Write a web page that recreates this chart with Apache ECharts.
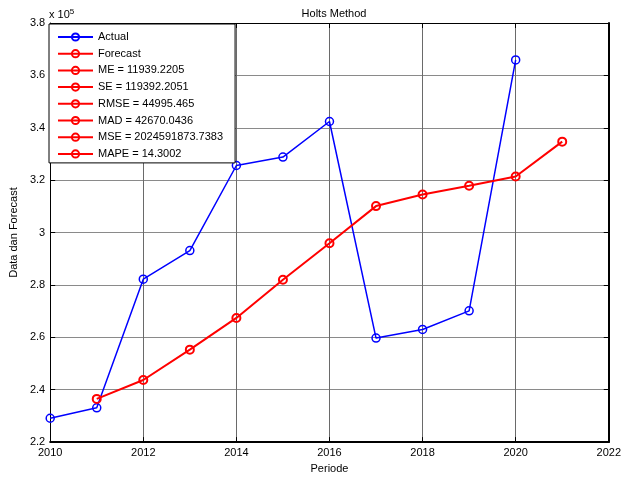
<!DOCTYPE html>
<html>
<head>
<meta charset="utf-8">
<script src="https://cdn.jsdelivr.net/npm/echarts@6/dist/echarts.min.js"></script>
<style>
html,body{margin:0;padding:0;background:#fff;}
#c{width:624px;height:479px;}
</style>
</head>
<body>
<div id="c"></div>
<script>
// Data
const actualYears = [2010, 2011, 2012, 2013, 2014, 2015, 2016, 2017, 2018, 2019, 2020];
const actualValues = [229100, 233100, 282200, 293100, 325600, 328800, 342400, 259700, 263000, 270100, 365900];
const forecastYears = [2011, 2012, 2013, 2014, 2015, 2016, 2017, 2018, 2019, 2020, 2021];
const forecastValues = [236500, 243700, 255300, 267400, 282000, 295900, 310100, 314500, 317900, 321400, 334700];
const legendNames = ['Actual', 'Forecast', 'ME = 11939.2205', 'SE = 119392.2051', 'RMSE = 44995.465',
  'MAD = 42670.0436', 'MSE = 2024591873.7383', 'MAPE = 14.3002'];
const chartTitle = 'Holts Method';
const xLabel = 'Periode';
const yLabel = 'Data dan Forecast';
const xMin = 2010, xMax = 2022, xStep = 2;
const yMin = 220000, yMax = 380000, yStep = 20000;
const yScaleExp = 5;

const FONT = 'Liberation Sans, Arial, sans-serif';
const chart = echarts.init(document.getElementById('c'), null, {renderer: 'canvas'});

function pairs(xs, ys) { return xs.map((x, i) => [x, ys[i]]); }

function lineSeries(name, xs, ys, color, width, z) {
  return {
    name: name, type: 'line', xAxisIndex: 0, yAxisIndex: 0,
    data: xs ? pairs(xs, ys) : [],
    symbol: 'circle', symbolSize: 8, showSymbol: true,
    itemStyle: {color: 'rgba(255,255,255,0)', borderColor: color, borderWidth: width},
    lineStyle: {color: color, width: width},
    emphasis: {disabled: true},
    animation: false, z: z
  };
}

const series = [
  lineSeries(legendNames[0], actualYears, actualValues, '#0000ff', 1.5, 3),
  lineSeries(legendNames[1], forecastYears, forecastValues, '#ff0000', 2, 4)
];
for (let i = 2; i < legendNames.length; i++) {
  series.push(lineSeries(legendNames[i], null, null, '#ff0000', 2, 2));
}

const axisCommonX = {type: 'value', min: xMin, max: xMax, interval: xStep};
const axisCommonY = {type: 'value', min: yMin, max: yMax, interval: yStep};

const option = {
  backgroundColor: '#fff',
  animation: false,
  title: [
    {
      text: chartTitle, left: 329, top: 3, textAlign: 'center',
      textStyle: {fontFamily: FONT, fontSize: 11, fontWeight: 'normal', color: '#000'}
    },
    {
      text: 'x 10{sup|' + yScaleExp + '}', left: 44, top: 3,
      textStyle: {
        fontFamily: FONT, fontSize: 11, fontWeight: 'normal', color: '#000',
        rich: {sup: {fontFamily: FONT, fontSize: 8, color: '#000', verticalAlign: 'top', padding: [0, 0, 6, 0]}}
      }
    }
  ],
  grid: {left: 47, right: 13, top: 23, bottom: 36, containLabel: false},
  legend: {
    orient: 'vertical', left: 49, top: 24,
    data: legendNames,
    backgroundColor: '#fff', borderColor: '#000', borderWidth: 1,
    padding: [7, 12, 3, 8],
    itemWidth: 35, itemHeight: 9, itemGap: 4.7,
    textStyle: {fontFamily: FONT, fontSize: 11, color: '#000', lineHeight: 12},
    selectedMode: false, z: 10
  },
  xAxis: [
    Object.assign({}, axisCommonX, {
      position: 'bottom',
      name: xLabel, nameLocation: 'middle', nameGap: 19,
      nameTextStyle: {fontFamily: FONT, fontSize: 11, color: '#000'},
      axisLine: {show: true, onZero: false, lineStyle: {color: '#000', width: 2}},
      axisTick: {show: true, inside: true, length: 5, lineStyle: {color: '#000'}},
      axisLabel: {fontFamily: FONT, fontSize: 11, color: '#000', margin: 5, formatter: v => String(v)},
      splitLine: {show: true, lineStyle: {color: '#6a6a6a', width: 1}}
    }),
    Object.assign({}, axisCommonX, {
      position: 'top',
      axisLine: {show: true, onZero: false, lineStyle: {color: '#000', width: 1}},
      axisTick: {show: true, inside: true, length: 5, lineStyle: {color: '#000'}},
      axisLabel: {show: false},
      splitLine: {show: false}
    })
  ],
  yAxis: [
    Object.assign({}, axisCommonY, {
      position: 'left',
      name: yLabel, nameLocation: 'middle', nameGap: 30, nameRotate: 90,
      nameTextStyle: {fontFamily: FONT, fontSize: 11, color: '#000'},
      axisLine: {show: true, onZero: false, lineStyle: {color: '#000', width: 1}},
      axisTick: {show: true, inside: true, length: 5, lineStyle: {color: '#000'}},
      axisLabel: {
        fontFamily: FONT, fontSize: 11, color: '#000', margin: 5,
        formatter: v => {
          const s = v / Math.pow(10, yScaleExp);
          return String(Math.round(s * 10) / 10);
        }
      },
      splitLine: {show: true, lineStyle: {color: '#8a8a8a', width: 1}}
    }),
    Object.assign({}, axisCommonY, {
      position: 'right',
      axisLine: {show: true, onZero: false, lineStyle: {color: '#000', width: 2}},
      axisTick: {show: true, inside: true, length: 5, lineStyle: {color: '#000'}},
      axisLabel: {show: false},
      splitLine: {show: false}
    })
  ],
  series: series
};

chart.setOption(option);
</script>
</body>
</html>
